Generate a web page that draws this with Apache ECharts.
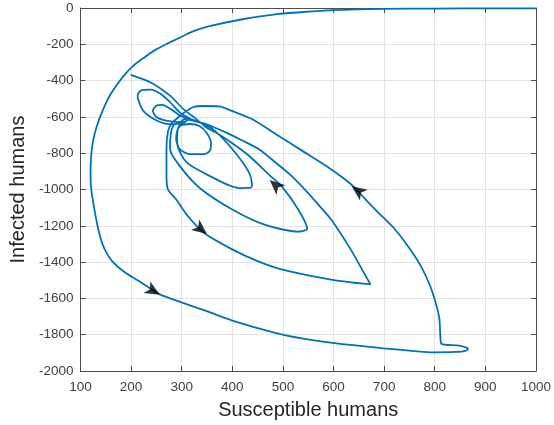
<!DOCTYPE html>
<html>
<head>
<meta charset="utf-8">
<script src="https://cdn.jsdelivr.net/npm/echarts@6/dist/echarts.min.js"></script>
<style>
  html, body { margin: 0; padding: 0; background: #fff; }
  #chart { width: 554px; height: 425px; }
</style>
</head>
<body>
<div id="chart"></div>
<script>
// trajectory, in drawing order
let susceptible = [
  1000, 900, 800, 700, 600, 540, 485, 420, 351, 320, 293, 270, 247, 225, 202, 185, 169, 159, 150, 141, 134, 128, 124, 121, 120, 121, 127, 133, 140, 148, 163, 189, 221, 257, 293, 351, 400, 485, 540, 602, 699, 760, 797, 840, 861, 866, 848, 813,
  811, 809, 803, 790, 771, 745, 719, 686, 660, 634, 588, 540, 491, 439, 400, 374, 340, 322, 303,
  290, 280, 273, 270, 270, 273, 289, 312, 344, 400, 450, 497, 595, 673,
  660, 634, 595, 572, 549, 517, 485, 452, 420, 387, 348, 322, 305,
  296, 291, 292, 310, 355, 413, 436, 439,
  433, 400, 361, 335, 316,
  300, 316, 335, 350, 358, 356, 345, 316, 296, 289, 292, 303,
  285, 265, 245, 225, 216, 213, 219, 238, 258, 277, 296, 310, 318,
  300, 280, 262, 250, 243, 250, 272, 295, 310,
  283, 277, 296, 335, 400, 465, 530, 548,
  530, 497, 475, 433, 400, 370, 348, 329, 303, 277, 238, 199
]
let infected = [
  -2, -2, -3, -5, -12, -22, -35, -62, -103, -132, -168, -198, -232, -275, -324, -375, -435, -478, -527, -585, -638, -695, -748, -822, -900, -990, -1100, -1190, -1270, -1330, -1396, -1459, -1514, -1578, -1615, -1672, -1722, -1790, -1822, -1847, -1875, -1890, -1897, -1895, -1889, -1877, -1860, -1850,
  -1801, -1709, -1635, -1525, -1414, -1304, -1212, -1120, -1045, -970, -875, -790, -704, -612, -568, -542, -540, -547, -580,
  -610, -635, -680, -777, -925, -1000, -1054, -1146, -1238, -1330, -1395, -1440, -1496, -1523,
  -1459, -1330, -1164, -1090, -1017, -925, -850, -777, -730, -685, -639, -621, -612,
  -640, -700, -759, -851, -925, -992, -990, -975,
  -906, -777, -666, -630, -612,
  -645, -639, -650, -690, -745, -785, -805, -805, -777, -720, -670, -630,
  -640, -635, -612, -570, -520, -483, -455, -450, -473, -519, -575, -600, -610,
  -598, -560, -534, -538, -566, -600, -622, -628, -625,
  -648, -777, -870, -990, -1110, -1195, -1232, -1216,
  -1109, -980, -925, -814, -745, -690, -657, -612, -556, -483, -409, -368
]

// direction arrows on the trajectory
let arrowS = [257, 350, 474, 636]
let arrowI = [-1580, -1245, -948, -982]
let arrowAngle = [-120, -128, 48, 54]

let myChart = echarts.init(document.getElementById('chart'))

let lineData = susceptible.map((s, i) => [s, infected[i]])
let arrowData = arrowS.map((s, i) => ({ value: [s, arrowI[i]], symbolRotate: arrowAngle[i] }))

let plain = v => String(v)
let labelStyle = { color: '#404040', fontSize: 13.5, fontFamily: 'Liberation Sans, Arial, sans-serif', formatter: plain }
let nameStyle = { color: '#262626', fontSize: 20, fontFamily: 'Liberation Sans, Arial, sans-serif' }
let lineStyle = { color: '#4d4d4d', width: 1 }
let tickStyle = { inside: true, length: 5, lineStyle: { color: '#4d4d4d' } }

let options = {
  backgroundColor: '#fff',
  animation: false,
  grid: { left: 79, right: 12, top: 8, bottom: 54, show: false },
  xAxis: [
    {
      type: 'value', min: 100, max: 1000, interval: 100,
      name: 'Susceptible humans', nameLocation: 'middle', nameGap: 29,
      nameTextStyle: nameStyle,
      axisLine: { show: true, onZero: false, lineStyle: lineStyle },
      axisTick: tickStyle,
      axisLabel: Object.assign({ margin: 9 }, labelStyle),
      splitLine: { show: true, lineStyle: { color: '#e3e3e3' } }
    },
    {
      type: 'value', min: 100, max: 1000, interval: 100, position: 'top',
      axisLine: { show: true, onZero: false, lineStyle: lineStyle },
      axisTick: tickStyle,
      axisLabel: { show: false },
      splitLine: { show: false }
    }
  ],
  yAxis: [
    {
      type: 'value', min: -2000, max: 0, interval: 200,
      name: 'Infected humans', nameLocation: 'middle', nameGap: 48, nameRotate: 90,
      nameTextStyle: nameStyle,
      axisLine: { show: true, onZero: false, lineStyle: lineStyle },
      axisTick: tickStyle,
      axisLabel: Object.assign({ margin: 7 }, labelStyle),
      splitLine: { show: true, lineStyle: { color: '#e3e3e3' } }
    },
    {
      type: 'value', min: -2000, max: 0, interval: 200, position: 'right',
      axisLine: { show: true, onZero: false, lineStyle: lineStyle },
      axisTick: tickStyle,
      axisLabel: { show: false },
      splitLine: { show: false }
    }
  ],
  series: [
    {
      type: 'line',
      data: lineData,
      showSymbol: false,
      smooth: 0.25,
      lineStyle: { color: '#0072BD', width: 1.8 },
      z: 2
    },
    {
      type: 'scatter',
      data: arrowData,
      symbol: 'arrow',
      symbolSize: [10, 15],
      itemStyle: { color: '#000' },
      z: 3
    }
  ]
}

myChart.setOption(options)
</script>
</body>
</html>
